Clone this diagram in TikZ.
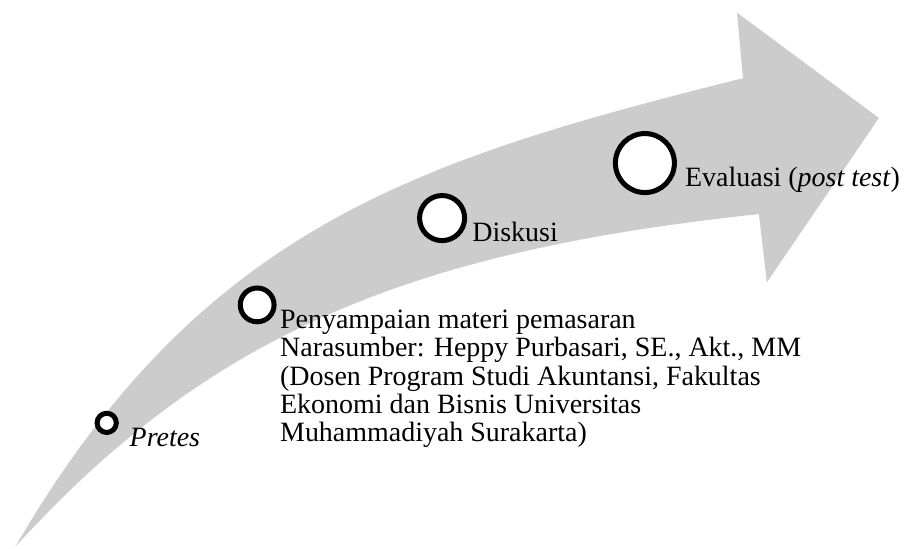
\documentclass[tikz,border=0pt]{standalone}
\usepackage{fontspec}
\setmainfont{Liberation Serif}
\usepackage{xcolor}
\usepackage{tikz}
\usetikzlibrary{positioning,calc}
\tikzset{
  flowarrow/.style={fill=black!20, draw=none},
  stepdot/.style={draw, circle, line width=2.15pt, fill=white, inner sep=0pt},
  steptext/.style={anchor=base west, inner sep=0pt, align=left,
                   font=\fontsize{12}{12.1}\selectfont},
}

\begin{document}
\begin{tikzpicture}
    \useasboundingbox (0,0) rectangle (13.79,8.27);
    \fill[flowarrow] (0.23,0.02) .. controls (3.02,4.81) and (6.23,5.85) .. (11.21,7.09)
                     -- (11.12,8.08) -- (13.26,6.49) -- (11.57,4.01) -- (11.45,5.04)
                     .. controls (6.33,4.49) and (3.24,3.33) .. (0.23,0.02) -- cycle;
    \node[stepdot, minimum size=0.29cm] (pretes) at (1.61,1.89) {};
    \node[stepdot, minimum size=0.51cm] (materi) at (3.88,3.67) {};
    \node[stepdot, minimum size=0.68cm] (diskusi) at (6.67,4.98) {};
    \node[stepdot, minimum size=0.89cm] (evaluasi) at (9.73,5.81) {};
    \node[steptext] (pretesText) at (1.95,1.54) {\textit{Pretes}};
    \node[steptext] (materiText) at (4.22,1.61) {Penyampaian materi pemasaran\\
        Narasumber: Heppy Purbasari, SE., Akt., MM\\
        (Dosen Program Studi Akuntansi, Fakultas\\
        Ekonomi dan Bisnis Universitas\\
        Muhammadiyah Surakarta)};
    \node[steptext] (diskusiText) at (7.12,4.63) {Diskusi};
    \node[steptext] (evaluasiText) at (10.33,5.46) {Evaluasi (\textit{post test})};
\end{tikzpicture}
\end{document}
